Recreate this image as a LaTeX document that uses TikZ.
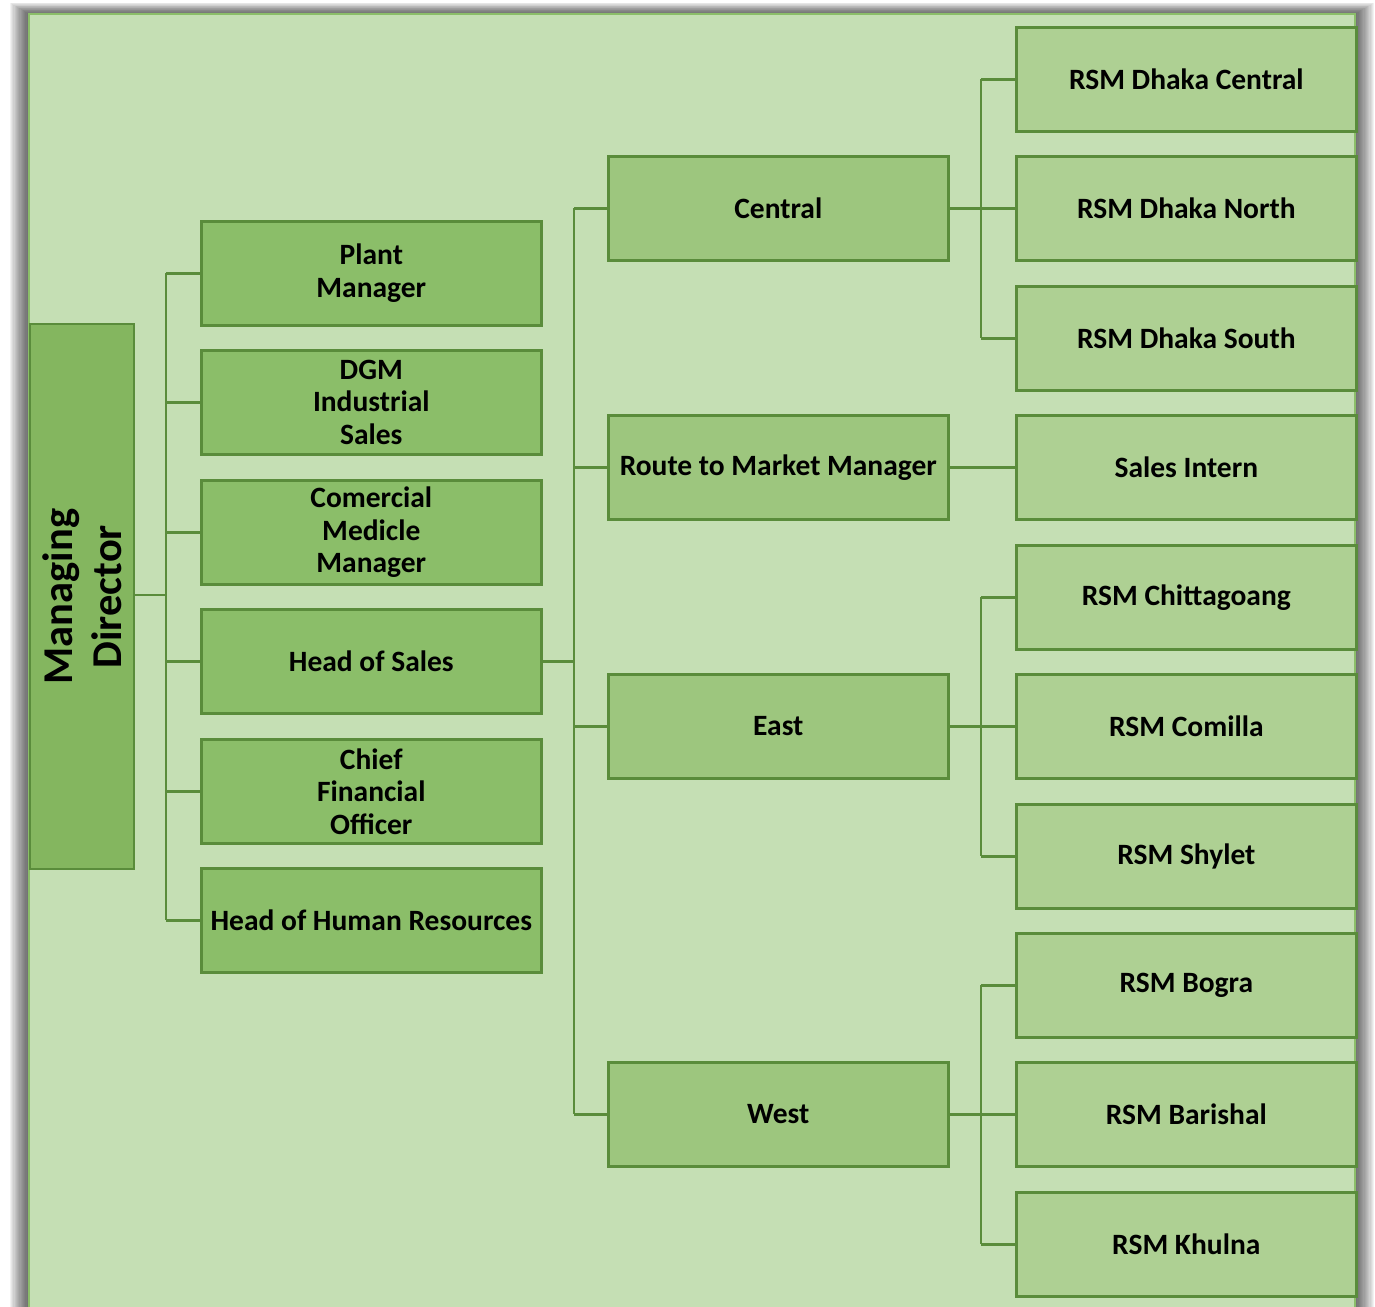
\documentclass[tikz,border=0pt]{standalone}
\usepackage{fontspec}
\setmainfont{Carlito}
\definecolor{bg}{HTML}{C5DFB4}
\definecolor{lone}{HTML}{8BBE69}
\definecolor{ltwo}{HTML}{9DC67E}
\definecolor{lthree}{HTML}{AED093}
\definecolor{mdc}{HTML}{84B65F}
\definecolor{edge}{HTML}{5A8C3B}
\begin{document}
\begin{tikzpicture}[x=1pt,y=-1pt,
  box/.style={draw=edge,line width=2.6pt,minimum width=340pt,minimum height=104pt,
    inner sep=1pt,align=center,font=\fontsize{29.5}{32.5}\selectfont\bfseries,anchor=north west},
  lvone/.style={box,fill=lone},
  lvtwo/.style={box,fill=ltwo},
  lvthree/.style={box,fill=lthree},
  conn/.style={draw=edge,line width=2.6pt}]
\useasboundingbox (0,0) rectangle (1375,1306);
% shadow
\foreach \i in {1,...,16}{
  \fill[black,opacity=0.05] (29-\i*1.2,14-\i*0.7) rectangle (1355+\i*1.2,1320);
}
\fill[bg] (29,14) rectangle (1355,1320);
\draw[draw=lone,line width=2pt] (29,1320) -- (29,14) -- (1355,14) -- (1355,1320);
% Managing Director
\node[draw=edge,line width=2.2pt,fill=mdc,minimum width=104pt,minimum height=545pt,inner sep=0pt,anchor=north west] (md) at (29,323) {};
\node[rotate=90,align=center,font=\fontsize{42.5}{49}\selectfont\bfseries] at (md.center) {Managing\\Director};
% level one
\node[lvone] (pm) at (200,220) {Plant\\Manager};
\node[lvone] (dgm) at (200,349) {DGM\\Industrial\\Sales};
\node[lvone] (cmm) at (200,479) {Comercial\\Medicle\\Manager};
\node[lvone] (hos) at (200,608) {Head of Sales};
\node[lvone] (cfo) at (200,738) {Chief\\Financial\\Officer};
\node[lvone] (hr) at (200,867) {Head of Human Resources};
% level two
\node[lvtwo] (cen) at (607,155) {Central};
\node[lvtwo] (rtm) at (607,414) {Route to Market Manager};
\node[lvtwo] (east) at (607,673) {East};
\node[lvtwo] (west) at (607,1061) {West};
% level three
\node[lvthree] (dc) at (1015,26) {RSM Dhaka Central};
\node[lvthree] (dn) at (1015,155) {RSM Dhaka North};
\node[lvthree] (ds) at (1015,285) {RSM Dhaka South};
\node[lvthree] (si) at (1015,414) {Sales Intern};
\node[lvthree] (ch) at (1015,544) {RSM Chittagoang};
\node[lvthree] (co) at (1015,673) {RSM Comilla};
\node[lvthree] (sh) at (1015,803) {RSM Shylet};
\node[lvthree] (bo) at (1015,932) {RSM Bogra};
\node[lvthree] (ba) at (1015,1061) {RSM Barishal};
\node[lvthree] (kh) at (1015,1191) {RSM Khulna};
% coordinates of trunks
\coordinate (mdj) at (166,0);
\coordinate (hsj) at (574,0);
\coordinate (rj) at (981,0);
% MD connectors
\draw[conn] (md.east |- 0,595) -- (mdj |- 0,595);
\draw[conn] (mdj |- pm.west) -- (mdj |- hr.west);
\foreach \n in {pm,dgm,cmm,hos,cfo,hr}{
  \draw[conn] (mdj |- \n.west) -- (\n.west);
}
% Head of sales connectors
\draw[conn] (hos.east) -- (hsj |- hos.east);
\draw[conn] (hsj |- cen.west) -- (hsj |- west.west);
\foreach \n in {cen,rtm,east,west}{
  \draw[conn] (hsj |- \n.west) -- (\n.west);
}
% regional connectors
\draw[conn] (cen.east) -- (rj |- cen.east);
\draw[conn] (rj |- dc.west) -- (rj |- ds.west);
\foreach \n in {dc,dn,ds}{\draw[conn] (rj |- \n.west) -- (\n.west);}
\draw[conn] (rtm.east) -- (si.west);
\draw[conn] (east.east) -- (rj |- east.east);
\draw[conn] (rj |- ch.west) -- (rj |- sh.west);
\foreach \n in {ch,co,sh}{\draw[conn] (rj |- \n.west) -- (\n.west);}
\draw[conn] (west.east) -- (rj |- west.east);
\draw[conn] (rj |- bo.west) -- (rj |- kh.west);
\foreach \n in {bo,ba,kh}{\draw[conn] (rj |- \n.west) -- (\n.west);}
\end{tikzpicture}
\end{document}
